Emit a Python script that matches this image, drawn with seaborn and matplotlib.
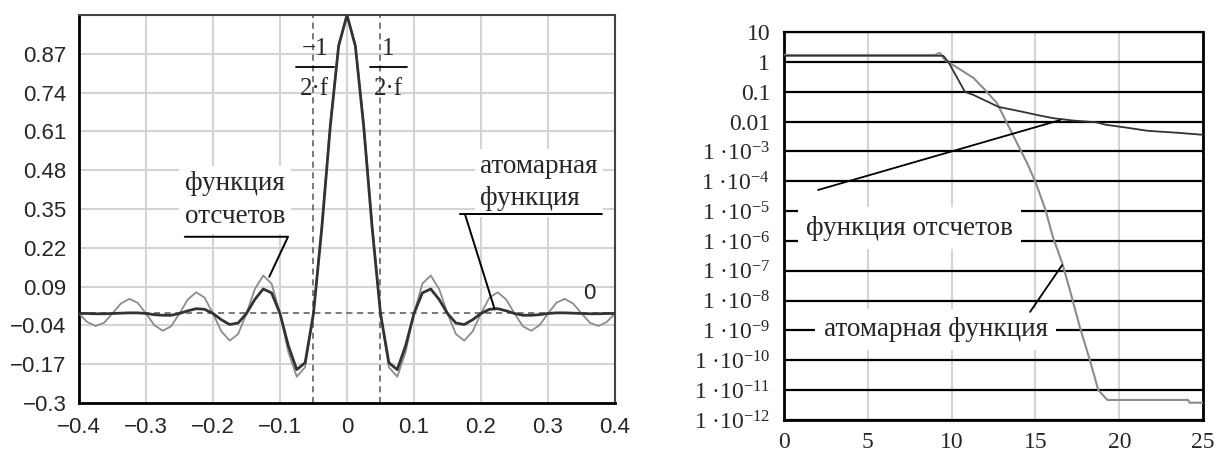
import numpy as np
import matplotlib
matplotlib.use("Agg")
import matplotlib.pyplot as plt
from matplotlib.ticker import NullLocator
import seaborn as sns

# ---------------- data ----------------
# time axis of the kernels (step 0.0125, -0.4 .. 0.4)
t = np.round(np.arange(-32, 33) * 0.0125, 4)

sampling_fn = [
    0, -0.029, -0.042, -0.031, 0, 0.033, 0.049, 0.036,
    0, -0.039, -0.058, -0.043, 0, 0.047, 0.071, 0.053,
    0, -0.060, -0.091, -0.069, 0, 0.082, 0.127, 0.100,
    0, -0.129, -0.212, -0.180, 0, 0.300, 0.637, 0.900,
    1.0,
    0.900, 0.637, 0.300, 0, -0.180, -0.212, -0.129, 0,
    0.100, 0.127, 0.082, 0, -0.069, -0.091, -0.060, 0,
    0.053, 0.071, 0.047, 0, -0.043, -0.058, -0.039, 0,
    0.036, 0.049, 0.033, 0, -0.031, -0.042, -0.029, 0,
]
atomic_fn = [
    0, 0, -0.001, -0.001, 0, 0.001, 0.002, 0.002,
    0, -0.004, -0.006, -0.006, 0, 0.009, 0.016, 0.014,
    0, -0.021, -0.037, -0.032, 0, 0.047, 0.082, 0.069,
    0, -0.108, -0.188, -0.165, 0, 0.288, 0.625, 0.896,
    1.0,
    0.896, 0.625, 0.288, 0, -0.165, -0.188, -0.108, 0,
    0.069, 0.082, 0.047, 0, -0.032, -0.037, -0.021, 0,
    0.014, 0.016, 0.009, 0, -0.006, -0.006, -0.004, 0,
    0.002, 0.002, 0.001, 0, -0.001, -0.001, 0, 0,
]

left_xticks = [-0.4, -0.3, -0.2, -0.1, 0.0, 0.1, 0.2, 0.3, 0.4]
left_xlabels = ["\u22120.4", "\u22120.3", "\u22120.2", "\u22120.1", "0",
                "0.1", "0.2", "0.3", "0.4"]
left_yticks = [-0.3, -0.17, -0.04, 0.09, 0.22, 0.35, 0.48, 0.61, 0.74, 0.87]
left_ylabels = ["\u22120.3", "\u22120.17", "\u22120.04", "0.09", "0.22",
                "0.35", "0.48", "0.61", "0.74", "0.87"]
half_period = 0.05  # 1/(2f), f = 10

# spectra (log scale)
freq_sampling = [0, 9.5, 9.8, 10.8, 11.3, 12.8, 14.1, 15.1, 16.05, 17.25,
                 18.6, 19.2, 20.4, 21.7, 23.5, 25.0]
spec_sampling = [1.6, 1.6, 1.0, 0.098, 0.078, 0.031, 0.022, 0.0166, 0.013,
                 0.0108, 0.0095, 0.0078, 0.0063, 0.0049, 0.0042, 0.0036]

freq_atomic = [0, 9.0, 9.3, 9.6, 9.8, 11.3, 11.9, 12.7, 13.3, 13.9, 14.5,
               15.0, 15.6, 16.05, 16.6, 17.05, 17.65, 18.25, 18.75, 19.3,
               24.1, 24.2, 25.0]
spec_atomic = [1.7, 1.7, 2.0, 1.15, 0.99, 0.29, 0.13, 0.042, 0.0089, 1.9e-3,
               4.1e-4, 9.4e-5, 1.1e-5, 1.3e-6, 1.8e-7, 2.3e-8, 1.3e-9,
               1.0e-10, 1.0e-11, 4.7e-12, 4.7e-12, 3.8e-12, 3.8e-12]

right_xticks = [0, 5, 10, 15, 20, 25]
right_yexp = list(range(1, -13, -1))
right_ylabels = ["10", "1", "0.1", "0.01"] + [
    "1 \u00b710$^{%d}$" % e for e in range(-3, -13, -1)]

# ---------------- style ----------------
sns.set_style("white")
plt.rcParams["font.family"] = ["Liberation Serif", "DejaVu Serif"]
plt.rcParams["mathtext.fontset"] = "custom"
plt.rcParams["mathtext.rm"] = "Liberation Serif"
plt.rcParams["mathtext.it"] = "Liberation Serif:italic"
plt.rcParams["mathtext.bf"] = "Liberation Serif:bold"
plt.rcParams["axes.unicode_minus"] = True

SANS = ["Liberation Sans", "DejaVu Sans"]
DARK = "#333333"
GREY = "#8c8c8c"
GRID = "#d4d4d4"
TXT = 19.5

fig = plt.figure(figsize=(12.22, 4.51), dpi=100)
ax1 = fig.add_axes([0.0646, 0.1064, 0.4387, 0.8603])
ax2 = fig.add_axes([0.6416, 0.0687, 0.3429, 0.8603])

# ---------------- left: kernels in time ----------------
ax1.set_axisbelow(True)
ax1.grid(True, color=GRID, lw=1.5)
ax1.axhline(0, color="#555555", lw=1.1, ls=(0, (4, 3)), zorder=1.5)
for xv in (-half_period, half_period):
    ax1.axvline(xv, color="#555555", lw=1.1, ls=(0, (4, 3)), zorder=1.5)

sns.lineplot(x=t, y=sampling_fn, ax=ax1, color=GREY, lw=1.3, estimator=None,
             zorder=3)
sns.lineplot(x=t, y=atomic_fn, ax=ax1, color=DARK, lw=2.0, estimator=None,
             zorder=4)

ax1.set_xlim(-0.4, 0.4)
ax1.set_ylim(-0.3, 1.0)
ax1.set_xticks(left_xticks)
ax1.set_xticklabels(left_xlabels)
ax1.set_yticks(left_yticks)
ax1.set_yticklabels(left_ylabels)
ax1.tick_params(length=0, labelsize=16, pad=9)
ax1.tick_params(axis="x", pad=10)
for lab in ax1.get_xticklabels() + ax1.get_yticklabels():
    lab.set_family(SANS)
for side in ("left", "bottom"):
    ax1.spines[side].set_color("black")
    ax1.spines[side].set_linewidth(2)
for side in ("top", "right"):
    ax1.spines[side].set_color("#444444")
    ax1.spines[side].set_linewidth(1.5)
ax1.set_xlabel("")
ax1.set_ylabel("")

# fraction labels at +-1/(2f)
for xc, num in ((-0.048, "\u22121"), (0.062, "1")):
    ax1.text(xc, 0.885, num, ha="center", va="center", fontsize=18, zorder=5)
    ax1.plot([xc - 0.028, xc + 0.028], [0.827, 0.827], color="black",
             lw=1.3, zorder=5)
    ax1.text(xc, 0.752, "2\u00b7f", ha="center", va="center", fontsize=18,
             zorder=5)

box = dict(boxstyle="square,pad=0.2", fc="white", ec="none")
ax1.text(-0.242, 0.38, "функция\nотсчетов", ha="left", va="center",
         fontsize=TXT, linespacing=1.38, bbox=box, zorder=2)
ax1.plot([-0.242, -0.088, -0.116], [0.257, 0.257, 0.123], color="black",
         lw=1.4, zorder=5)
ax1.text(0.199, 0.438, "атомарная\nфункция", ha="left", va="center",
         fontsize=TXT, linespacing=1.38, bbox=box, zorder=2)
ax1.plot([0.38, 0.168], [0.333, 0.333], color="black", lw=1.4, zorder=5)
ax1.plot([0.176, 0.22], [0.333, 0.017], color="black", lw=1.4, zorder=5)
ax1.text(0.361, 0.067, "0", ha="center", va="center", fontsize=16,
         family=SANS, zorder=5)

# ---------------- right: spectra ----------------
ax2.set_yscale("log")
ax2.set_axisbelow(True)
ax2.xaxis.grid(True, color=GRID, lw=1.5)
ax2.yaxis.grid(True, color="black", lw=1.6)

sns.lineplot(x=freq_sampling, y=spec_sampling, ax=ax2, color=DARK, lw=1.3,
             estimator=None, zorder=4)
sns.lineplot(x=freq_atomic, y=spec_atomic, ax=ax2, color=GREY, lw=1.5,
             estimator=None, zorder=3)

ax2.set_xlim(0, 25)
ax2.set_ylim(1e-12, 10)
ax2.set_xticks(right_xticks)
ax2.set_xticklabels([str(v) for v in right_xticks])
ax2.set_yticks([10.0 ** e for e in right_yexp])
ax2.set_yticklabels(right_ylabels)
ax2.yaxis.set_minor_locator(NullLocator())
ax2.tick_params(length=0, labelsize=17, pad=10)
ax2.tick_params(axis="x", pad=8.5)
for side in ("left", "bottom", "right", "top"):
    ax2.spines[side].set_color("black")
    ax2.spines[side].set_linewidth(2 if side != "top" else 1.6)
ax2.set_xlabel("")
ax2.set_ylabel("")

box2 = dict(boxstyle="square,pad=0.3", fc="white", ec="none")
ax2.text(7.46, 2.7e-6, "функция отсчетов", ha="center", va="center",
         fontsize=TXT, bbox=box2, zorder=2)
ax2.plot([2.03, 16.47], [5.1e-5, 0.0112], color="black", lw=1.3, zorder=5)
ax2.text(9.04, 1.05e-9, "атомарная функция", ha="center", va="center",
         fontsize=TXT, bbox=box2, zorder=2)
ax2.plot([14.68, 16.59], [4.2e-9, 1.55e-7], color="black", lw=1.3, zorder=5)

fig.savefig("out.png", dpi=100)
